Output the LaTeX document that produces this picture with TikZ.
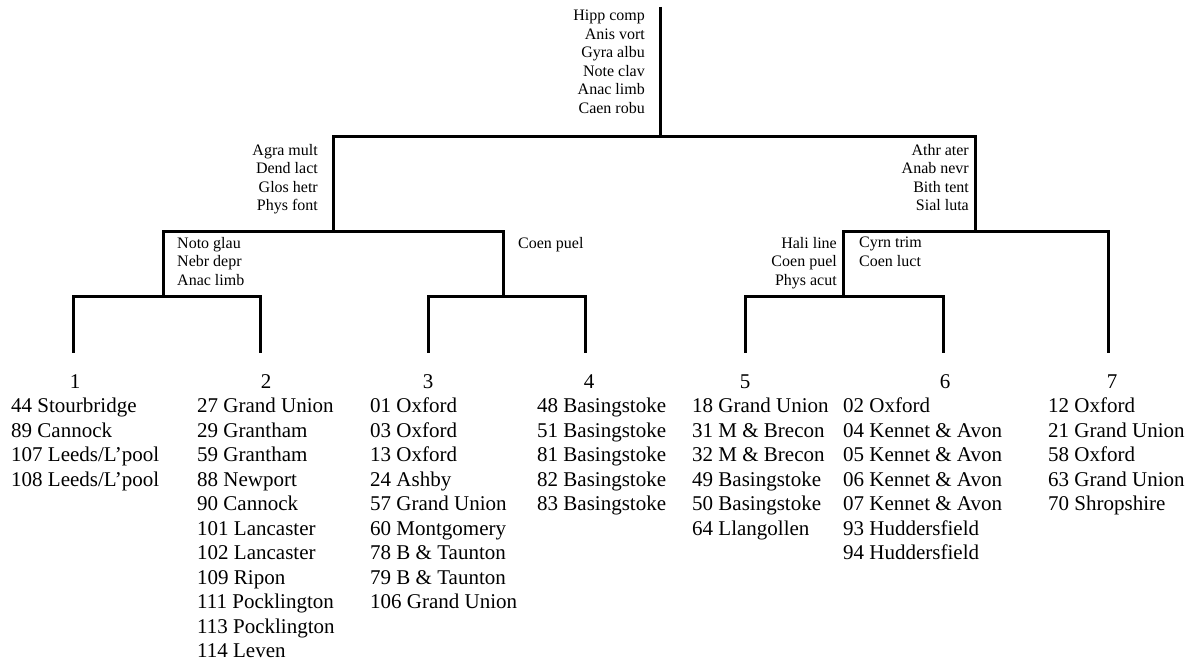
\documentclass[tikz,border=0pt]{standalone}
\usepackage{fontspec}
\setmainfont{Liberation Serif}
\begin{document}
\begin{tikzpicture}[line join=miter,
    branch/.style={line width=3bp},
    spplab/.style={inner sep=0pt,font=\fontsize{16bp}{18.5bp}\selectfont},
    grpnum/.style={inner sep=0pt,anchor=base,font=\fontsize{21bp}{24.5bp}\selectfont},
    sitelist/.style={inner sep=0pt,anchor=north west,align=left,font=\fontsize{21bp}{24.5bp}\selectfont}]
    %%
    \useasboundingbox (0bp,0bp) rectangle (1199bp,661bp);
    \coordinate (top) at (660.0bp,654.0bp);
    \coordinate (s0) at (660.0bp,524.0bp);
    \coordinate (s1) at (333.0bp,429.0bp);
    \coordinate (s2) at (975.0bp,429.0bp);
    \coordinate (s11) at (163.0bp,364.0bp);
    \coordinate (s12) at (503.0bp,364.0bp);
    \coordinate (s21) at (843.0bp,364.0bp);
    \coordinate (g1) at (73.0bp,308.0bp);
    \coordinate (g2) at (260.0bp,308.0bp);
    \coordinate (g3) at (428.0bp,308.0bp);
    \coordinate (g4) at (585.0bp,308.0bp);
    \coordinate (g5) at (745.0bp,308.0bp);
    \coordinate (g6) at (943.0bp,308.0bp);
    \coordinate (g7) at (1108.0bp,308.0bp);
    %%
    \node (sp0) at (645.0bp,651.0bp) [spplab,anchor=north east,align=right] {Hipp comp\\Anis vort\\Gyra albu\\Note clav\\Anac limb\\Caen robu};
    \node (sp1) at (318.0bp,517.0bp) [spplab,anchor=north east,align=right] {Agra mult\\Dend lact\\Glos hetr\\Phys font};
    \node (sp2) at (969.0bp,517.0bp) [spplab,anchor=north east,align=right] {Athr ater\\Anab nevr\\Bith tent\\Sial luta};
    \node (sp11) at (177.0bp,424.0bp) [spplab,anchor=north west,align=left] {Noto glau\\Nebr depr\\Anac limb};
    \node (sp12) at (518.0bp,424.0bp) [spplab,anchor=north west,align=left] {Coen puel};
    \node (sp21) at (837.0bp,424.0bp) [spplab,anchor=north east,align=right] {Hali line\\Coen puel\\Phys acut};
    \node (sp22) at (859.0bp,424.0bp) [spplab,anchor=north west,align=left] {Cyrn trim\\Coen luct};
    %%
    \node (n1) at (75.0bp,272.0bp) [grpnum] {1};
    \node (n2) at (266.0bp,272.0bp) [grpnum] {2};
    \node (n3) at (428.0bp,272.0bp) [grpnum] {3};
    \node (n4) at (589.0bp,272.0bp) [grpnum] {4};
    \node (n5) at (745.0bp,272.0bp) [grpnum] {5};
    \node (n6) at (945.0bp,272.0bp) [grpnum] {6};
    \node (n7) at (1112.0bp,272.0bp) [grpnum] {7};
    \node (l1) at (11.0bp,263.0bp) [sitelist] {44 Stourbridge\\89 Cannock\\107 Leeds/L’pool\\108 Leeds/L’pool};
    \node (l2) at (197.0bp,263.0bp) [sitelist] {27 Grand Union\\29 Grantham\\59 Grantham\\88 Newport\\90 Cannock\\101 Lancaster\\102 Lancaster\\109 Ripon\\111 Pocklington\\113 Pocklington\\114 Leven};
    \node (l3) at (370.0bp,263.0bp) [sitelist] {01 Oxford\\03 Oxford\\13 Oxford\\24 Ashby\\57 Grand Union\\60 Montgomery\\78 B \& Taunton\\79 B \& Taunton\\106 Grand Union};
    \node (l4) at (537.0bp,263.0bp) [sitelist] {48 Basingstoke\\51 Basingstoke\\81 Basingstoke\\82 Basingstoke\\83 Basingstoke};
    \node (l5) at (692.0bp,263.0bp) [sitelist] {18 Grand Union\\31 M \& Brecon\\32 M \& Brecon\\49 Basingstoke\\50 Basingstoke\\64 Llangollen};
    \node (l6) at (843.0bp,263.0bp) [sitelist] {02 Oxford\\04 Kennet \& Avon\\05 Kennet \& Avon\\06 Kennet \& Avon\\07 Kennet \& Avon\\93 Huddersfield\\94 Huddersfield};
    \node (l7) at (1048.0bp,263.0bp) [sitelist] {12 Oxford\\21 Grand Union\\58 Oxford\\63 Grand Union\\70 Shropshire};
    %%
    \draw [branch] (top) -- (s0);
    \draw [branch] (s1) |- (s0) -| (s2);
    \draw [branch] (s11) |- (s1) -| (s12);
    \draw [branch] (s21) |- (s2) -| (g7);
    \draw [branch] (g1) |- (s11) -| (g2);
    \draw [branch] (g3) |- (s12) -| (g4);
    \draw [branch] (g5) |- (s21) -| (g6);
    %
\end{tikzpicture}
\end{document}
